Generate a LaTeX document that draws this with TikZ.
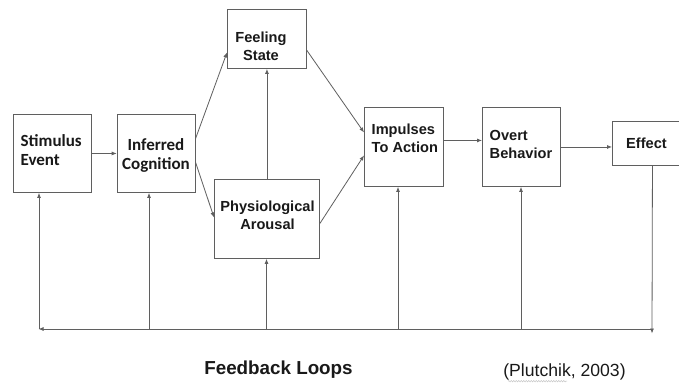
\documentclass[tikz,border=0pt]{standalone}
\usepackage{fontspec}
\setmainfont{Liberation Sans}
\newfontfamily\calfont{Carlito}
\usetikzlibrary{arrows.meta,decorations.pathmorphing}
\definecolor{linegray}{RGB}{95,95,95}
\definecolor{inkcol}{RGB}{25,25,25}
\begin{document}
\begin{tikzpicture}[x=1pt,y=-1pt,
  box/.style={draw=linegray,line width=0.9pt,inner sep=0pt,anchor=north west},
  lbl/.style={inner sep=0pt,text=inkcol,font=\bfseries\fontsize{14.6}{17.5}\selectfont},
  calbl/.style={inner sep=0pt,text=inkcol,font=\calfont\bfseries\fontsize{17}{19}\selectfont},
  arr/.style={draw=linegray,line width=0.8pt,-{Latex[length=5pt,width=4pt]}},
  plain/.style={draw=linegray,line width=0.8pt}]
\useasboundingbox[fill=white] (0,0) rectangle (679,383);

% boxes
\node[box,minimum width=78pt,minimum height=78pt] (stim) at (12.7,114) {};
\node[box,minimum width=78pt,minimum height=78pt] (inf) at (116.7,114) {};
\node[box,minimum width=79pt,minimum height=59pt] (feel) at (227,9) {};
\node[box,minimum width=105pt,minimum height=79pt] (phys) at (214,179) {};
\node[box,minimum width=79pt,minimum height=79pt] (imp) at (364,107) {};
\node[box,minimum width=78pt,minimum height=79pt] (ov) at (482,107) {};
\node[box,minimum width=80pt,minimum height=44pt] (eff) at (612,121) {};

% box texts
\node[calbl,align=left,anchor=west] (stimT) at (20.5,150.5) {Stimulus\\Event};
\node[calbl,align=center] (infT) at (156,155) {Inferred\\Cognition};
\node[lbl,align=center] (feelT) at (261,46.5) {Feeling\\State};
\node[lbl,align=center] (physT) at (267.5,215.5) {Physiological\\Arousal};
\node[lbl,align=left,anchor=west] (impT) at (371.5,138.5) {Impulses\\To Action};
\node[lbl,align=left,anchor=west] (ovT) at (489.5,144.5) {Overt\\Behavior};
\node[lbl] (effT) at (646.5,143) {Effect};

% forward connections
\draw[arr] (stim.east) -- (inf.west);
\draw[arr] ([yshift=15pt]inf.east) -- ([yshift=-13.5pt]feel.west);
\draw[arr] ([yshift=-9pt]inf.east) -- ([yshift=1.5pt]phys.west);
\draw[arr] (phys.north) -- (feel.south);
\draw[arr] ([yshift=-11.5pt]feel.east) -- ([yshift=14.5pt]imp.west);
\draw[arr] ([yshift=-4.5pt]phys.east) -- ([yshift=-8.5pt]imp.west);
\draw[arr] ([yshift=6.5pt]imp.east) -- ([yshift=6.5pt]ov.west);
\draw[arr] (ov.east) -- (ov.east -| eff.west);

% feedback loop
\coordinate (fbR) at (652,329);
\coordinate (fbRtip) at (652,333.5);
\coordinate (fbL) at (38.5,329);
\coordinate (fb1) at (39,329);
\coordinate (fb2) at (149,329);
\coordinate (fb3) at (266.5,329);
\coordinate (fb4) at (398,329);
\coordinate (fb5) at (521,329);
\draw[arr] (eff.south) -- (fbRtip);
\draw[arr] (fbR) -- (fbL);
\draw[arr] (fb1) -- (fb1 |- stim.south);
\draw[arr] (fb2) -- (fb2 |- inf.south);
\draw[arr] (fb3) -- (fb3 |- phys.south);
\draw[arr] (fb4) -- (fb4 |- imp.south);
\draw[arr] (fb5) -- (fb5 |- ov.south);

% captions
\node[inner sep=0pt,text=inkcol,font=\bfseries\fontsize{18.8}{20}\selectfont] (fbT) at (278.5,370) {Feedback Loops};
\node[inner sep=0pt,text=inkcol,font=\fontsize{17.6}{20}\selectfont] (cite) at (564.5,371.5) {(Plutchik, 2003)};
\draw[gray!45,line width=0.5pt,decorate,decoration={snake,amplitude=0.7pt,segment length=2.5pt}]
  (508,381.2) -- (567,381.2);
\end{tikzpicture}
\end{document}
